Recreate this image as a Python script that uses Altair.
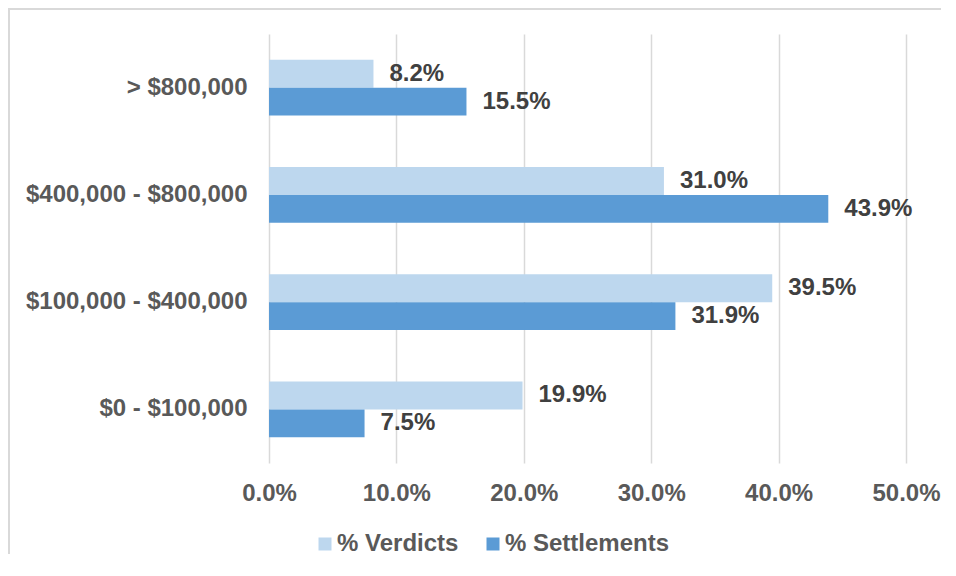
import altair as alt
import pandas as pd

categories = ["> $800,000", "$400,000 - $800,000", "$100,000 - $400,000", "$0 - $100,000"]
series = ["% Verdicts", "% Settlements"]
verdicts = [8.2, 31.0, 39.5, 19.9]
settlements = [15.5, 43.9, 31.9, 7.5]
colors = ["#BDD7EE", "#5B9BD5"]

rows = []
for c, v, s in zip(categories, verdicts, settlements):
    rows.append({"category": c, "series": series[0], "value": v / 100})
    rows.append({"category": c, "series": series[1], "value": s / 100})
df = pd.DataFrame(rows)

FONT = "Liberation Sans"
FS = 24

y_enc = alt.Y("category:N", sort=categories, title=None,
              scale=alt.Scale(paddingInner=0.478, paddingOuter=0.239),
              axis=alt.Axis(domain=False, ticks=False, labelFont=FONT, labelFontSize=FS,
                            labelFontWeight="bold", labelColor="#595959", labelPadding=22,
                            labelLimit=400))
x_enc = alt.X("value:Q", title=None,
              scale=alt.Scale(domain=[0, 0.5], nice=False),
              axis=alt.Axis(format=".1%", values=[0, 0.1, 0.2, 0.3, 0.4, 0.5], domain=False, ticks=False,
                            grid=True, gridColor="#D9D9D9", gridWidth=1.5, labelFlush=False,
                            labelFont=FONT, labelFontSize=FS, labelFontWeight="bold",
                            labelColor="#595959", labelPadding=18))
yoff = alt.YOffset("series:N", sort=series)

bars = alt.Chart(df).mark_bar().encode(
    y=y_enc, x=x_enc, yOffset=yoff,
    color=alt.Color("series:N", sort=series,
                    scale=alt.Scale(domain=series, range=colors),
                    legend=alt.Legend(title=None, orient="none", direction="horizontal",
                                      legendX=44, legendY=498, symbolType="square",
                                      symbolSize=169, symbolStrokeWidth=0, labelFont=FONT,
                                      labelFontSize=FS, labelFontWeight="bold",
                                      labelColor="#595959", labelOffset=0, columnPadding=22,
                                      padding=0, labelLimit=400)),
)

labels = alt.Chart(df).mark_text(align="left", baseline="middle", dx=16, font=FONT,
                                 fontSize=FS, fontWeight="bold", color="#404040").encode(
    y=alt.Y("category:N", sort=categories), x="value:Q", yOffset=yoff,
    text=alt.Text("value:Q", format=".1%"),
)

frame_left = alt.Chart(pd.DataFrame({"a": [0]})).mark_rule(color="#D9D9D9", strokeWidth=2).encode(
    x=alt.value(-260), y=alt.value(-25), y2=alt.value(520)
)
frame_top = alt.Chart(pd.DataFrame({"a": [0]})).mark_rule(color="#D9D9D9", strokeWidth=2).encode(
    x=alt.value(-261), x2=alt.value(672), y=alt.value(-25), y2=alt.value(-25)
)

chart = alt.layer(frame_left, frame_top, bars, labels).properties(
    width=637, height=429,
    autosize=alt.AutoSizeParams(type="none"),
    padding={"left": 261, "top": 26, "right": 42, "bottom": 95},
).configure(background="white").configure_view(stroke=None)

chart.save("out.html", embed_options={"renderer": "svg", "actions": False})
